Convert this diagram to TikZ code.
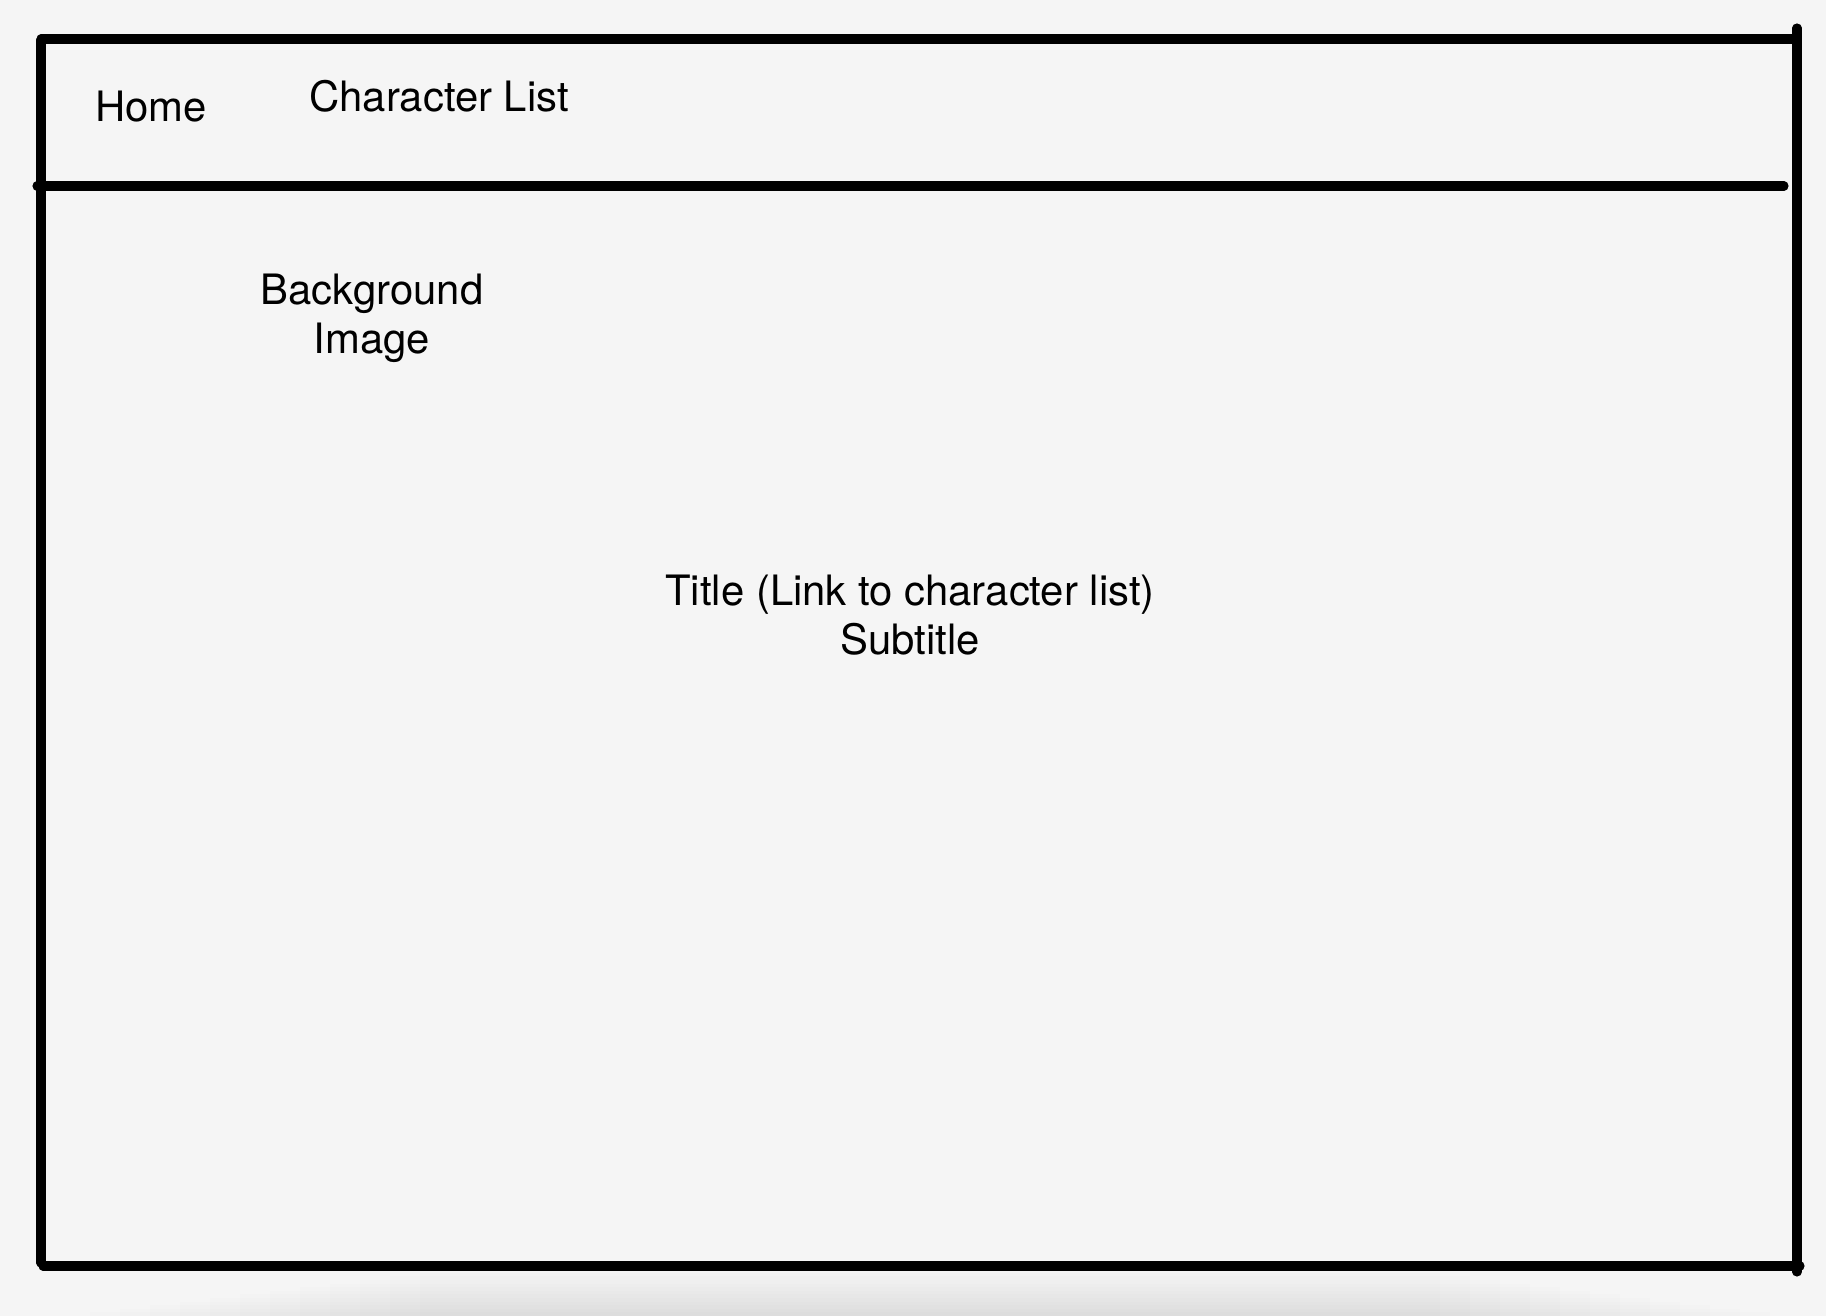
\documentclass[tikz,border=0pt]{standalone}
\usepackage{fontspec}
\setmainfont{TeX Gyre Heros}
\usepackage{tikz}
\usetikzlibrary{positioning}
\definecolor{paper}{HTML}{F5F5F5}
\tikzset{
  sketch/.style={line width=2.6pt, line cap=round, draw=black},
  lbl/.style={inner sep=0pt, align=center, font=\fontsize{11.9pt}{14pt}\selectfont},
  shadowstep/.style={fill=black, opacity=0.006}
}

\begin{document}
\begin{tikzpicture}[x=0.01cm, y=-0.01cm]
%%% page %%%
      \fill[paper] (0,0) rectangle (1826,1316);
      \useasboundingbox (0,0) rectangle (1826,1316);
      \foreach \i in {1,...,12}
        \fill[shadowstep] (60+\i*30,1316-\i*3.6) rectangle (1800-\i*30,1316);

      %% frame corners
      \coordinate (tl) at (41,39);
      \coordinate (tr) at (1797,39);
      \coordinate (rtop) at (1797,28);
      \coordinate (rbot) at (1797,1272);
      \coordinate (ltop) at (41,40);
      \coordinate (lbot) at (41,1263);
      \coordinate (bl) at (43,1266);
      \coordinate (br) at (1800,1266);
      \coordinate (hl) at (37,186);
      \coordinate (hr) at (1784,186);

      \draw[sketch] (tl) -- (tr);
      \draw[sketch] (ltop) -- (lbot);
      \draw[sketch] (rtop) -- (rbot);
      \draw[sketch] (hl) -- (hr);
      \draw[sketch] (bl) -- (br);

      %% header
      \node[lbl, anchor=base] (home) at (151,122) {Home};
      \node[lbl, anchor=base] (charlist) at (439,112) {Character List};

      %% body
      \node[lbl, anchor=north] (bgimage) at (372,273) {Background \\ Image};
      \node[lbl, anchor=north] (title) at (910,574) {Title (Link to character list) \\ Subtitle};

\end{tikzpicture}
\end{document}
